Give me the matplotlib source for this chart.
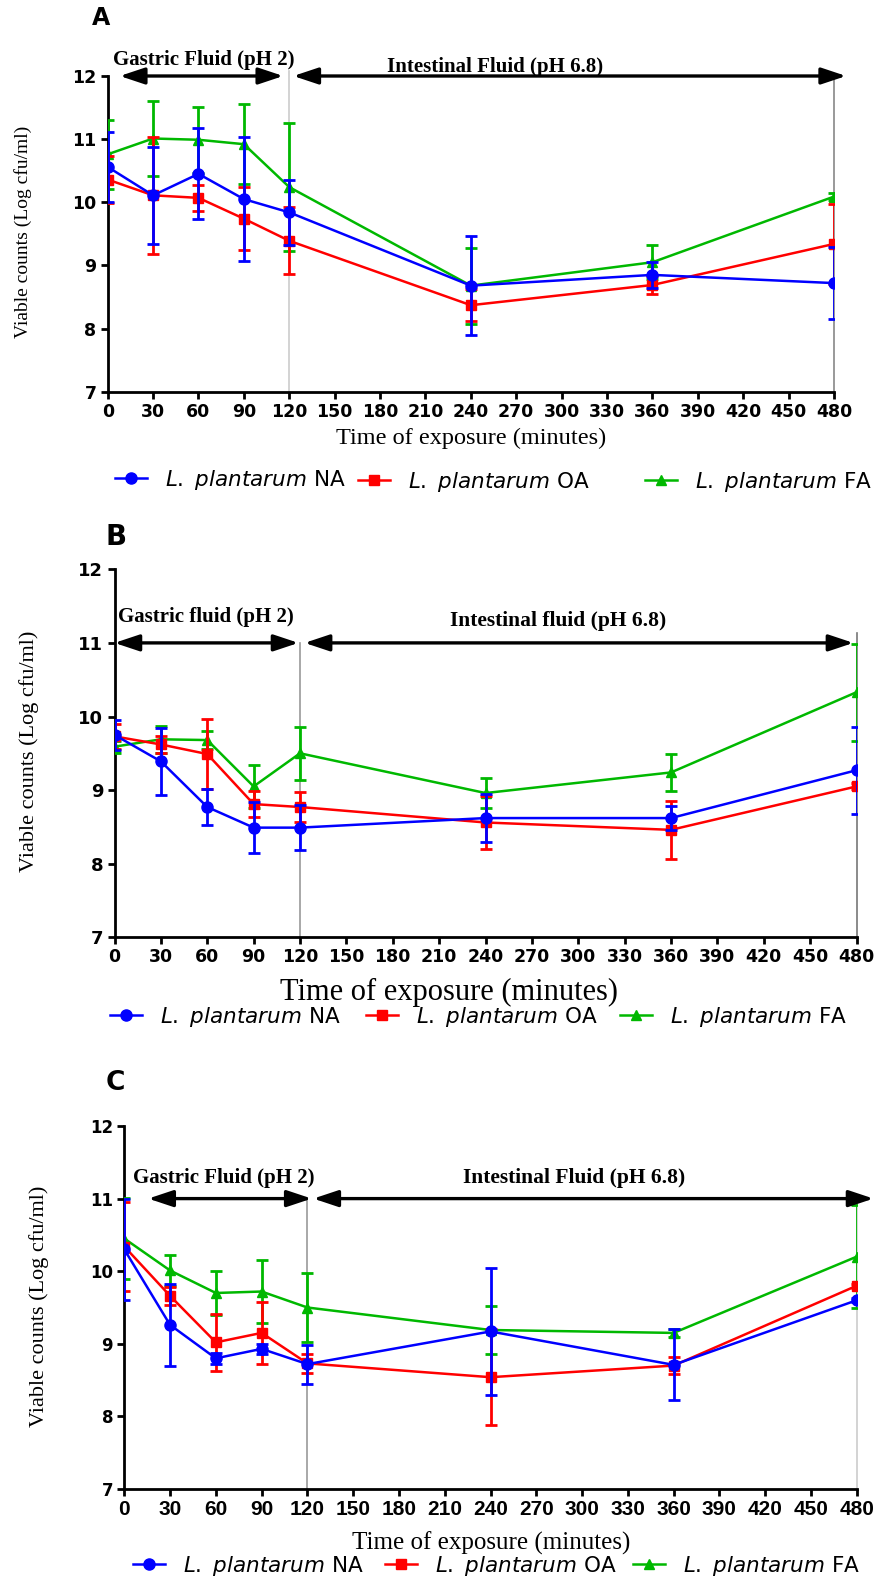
import matplotlib.pyplot as plt

# sampling times (minutes)
times = [0, 30, 60, 90, 120, 240, 360, 480]
xticks = list(range(0, 481, 30))
yticks = [7, 8, 9, 10, 11, 12]

# panel A: mean log counts and SD
na_a = [10.56, 10.11, 10.45, 10.05, 9.84, 8.68, 8.85, 8.72]
na_a_err = [0.56, 0.77, 0.72, 0.98, 0.51, 0.78, 0.20, 0.57]
oa_a = [10.36, 10.11, 10.07, 9.74, 9.39, 8.37, 8.69, 9.34]
oa_a_err = [0.37, 0.93, 0.21, 0.50, 0.53, 0.25, 0.15, 0.64]
fa_a = [10.76, 11.01, 10.99, 10.92, 10.24, 8.68, 9.05, 10.09]
fa_a_err = [0.55, 0.59, 0.52, 0.63, 1.01, 0.60, 0.27, 0.05]

# panel B
na_b = [9.75, 9.39, 8.77, 8.49, 8.49, 8.62, 8.62, 9.27]
na_b_err = [0.20, 0.46, 0.24, 0.35, 0.31, 0.33, 0.16, 0.59]
oa_b = [9.73, 9.62, 9.49, 8.81, 8.77, 8.56, 8.46, 9.05]
oa_b_err = [0.17, 0.12, 0.47, 0.18, 0.21, 0.36, 0.39, 0.04]
fa_b = [9.59, 9.69, 9.68, 9.05, 9.50, 8.96, 9.24, 10.33]
fa_b_err = [0.08, 0.18, 0.12, 0.29, 0.36, 0.20, 0.25, 0.66]

# panel C
na_c = [10.30, 9.26, 8.80, 8.93, 8.72, 9.17, 8.71, 9.60]
na_c_err = [0.70, 0.56, 0.08, 0.07, 0.27, 0.87, 0.49, 0.03]
oa_c = [10.34, 9.66, 9.02, 9.15, 8.73, 8.54, 8.70, 9.80]
oa_c_err = [0.61, 0.12, 0.39, 0.43, 0.13, 0.66, 0.12, 0.03]
fa_c = [10.45, 10.01, 9.70, 9.72, 9.50, 9.19, 9.15, 10.20]
fa_c_err = [0.56, 0.22, 0.30, 0.44, 0.48, 0.33, 0.05, 0.71]

strains = ['NA', 'OA', 'FA']
labels = [r'$\mathit{L.}$ $\mathit{plantarum}$ ' + s for s in strains]
colors = ['#0000ff', '#ff0000', '#00b800']
markers = ['o', 's', '^']
msizes = [8, 7.5, 7.5]

plt.rcParams['font.family'] = 'DejaVu Sans'
plt.rcParams['mathtext.fontset'] = 'dejavusans'

W, H = 877, 1579
fig = plt.figure(figsize=(W / 100, H / 100), dpi=100)


def add_ax(l, t, r, b):
    return fig.add_axes([l / W, 1 - b / H, (r - l) / W, (b - t) / H])


def arrow(ax, x0, x1, y):
    ax.annotate('', xy=(x1, y), xytext=(x0, y),
                arrowprops=dict(arrowstyle='<|-|>,head_length=1.5,head_width=0.5',
                                color='black', lw=2.4, shrinkA=0, shrinkB=0,
                                mutation_scale=10),
                annotation_clip=False)


def draw_panel(ax, series, tick_font, xtick_font):
    lines = [None, None, None]
    # FA first so NA ends up on top
    for i in [2, 1, 0]:
        y, err = series[i]
        eb = ax.errorbar(times, y, yerr=err, color=colors[i], marker=markers[i],
                         ms=msizes[i], lw=1.8, elinewidth=2, capsize=4.5,
                         capthick=2, zorder=3 + (2 - i))
        lines[i] = eb[0]
    ax.set_xlim(0, 480)
    ax.set_ylim(7, 12)
    ax.set_xticks(xticks)
    ax.set_yticks(yticks)
    for s in ['top', 'right']:
        ax.spines[s].set_visible(False)
    for s in ['left', 'bottom']:
        ax.spines[s].set_linewidth(2)
    ax.tick_params(width=2, length=5, pad=3)
    for t in ax.get_yticklabels():
        t.set_fontproperties(tick_font)
    for t in ax.get_xticklabels():
        t.set_fontproperties(xtick_font)
    return lines


def legend_row(lines, positions, size):
    for ln, lab, (x, y) in zip(lines, labels, positions):
        fig.legend(handles=[ln], labels=[lab], loc='center left',
                   bbox_to_anchor=(x / W, 1 - y / H), frameon=False,
                   borderpad=0, borderaxespad=0, fontsize=size,
                   handlelength=1.5, handletextpad=0.8)


bold13 = dict(family='DejaVu Sans', weight='bold', size=12.5)
serif = 'Liberation Serif'

# ---------------- A ----------------
axA = add_ax(107.7, 76, 834, 391.7)
lnA = draw_panel(axA, [(na_a, na_a_err), (oa_a, oa_a_err), (fa_a, fa_a_err)],
                 bold13, bold13)
axA.plot([120, 120], [7, 12.08], color='#cccccc', lw=1.2, clip_on=False, zorder=1)
axA.plot([480, 480], [7, 11.94], color='#888888', lw=1.2, clip_on=False, zorder=1)
arrow(axA, 8, 116, 12)
arrow(axA, 122.7, 488, 12)
axA.text(63.6, 12.25, 'Gastric Fluid (pH 2)', ha='center', va='center',
         family=serif, weight='bold', fontsize=15)
axA.text(256, 12.14, 'Intestinal Fluid (pH 6.8)', ha='center', va='center',
         family=serif, weight='bold', fontsize=15)
fig.text(101 / W, 1 - 18 / H, 'A', ha='center', va='center', weight='bold', fontsize=17)
fig.text(23 / W, 1 - 232 / H, 'Viable counts (Log cfu/ml)', rotation=90,
         ha='center', va='center', family=serif, fontsize=14)
fig.text(471.5 / W, 1 - 438 / H, 'Time of exposure (minutes)', ha='center',
         va='center', family=serif, fontsize=17.5)
legend_row(lnA, [(115, 480), (358, 482), (645, 482)], 15.5)

# ---------------- B ----------------
axB = add_ax(114.5, 569.3, 856.5, 937.3)
lnB = draw_panel(axB, [(na_b, na_b_err), (oa_b, oa_b_err), (fa_b, fa_b_err)],
                 dict(family='DejaVu Sans', weight='bold', size=13), bold13)
axB.plot([120, 120], [7, 11], color='#999999', lw=1.2, clip_on=False, zorder=1)
axB.plot([480, 480], [7, 11.13], color='#777777', lw=1.2, clip_on=False, zorder=1)
arrow(axB, 0, 119, 11)
arrow(axB, 123, 478, 11)
axB.text(59, 11.35, 'Gastric fluid (pH 2)', ha='center', va='center',
         family=serif, weight='bold', fontsize=15)
axB.text(287, 11.3, 'Intestinal fluid (pH 6.8)', ha='center', va='center',
         family=serif, weight='bold', fontsize=15.5)
fig.text(116.5 / W, 1 - 537 / H, 'B', ha='center', va='center', weight='bold', fontsize=20)
fig.text(29 / W, 1 - 751 / H, 'Viable counts (Log cfu/ml)', rotation=90,
         ha='center', va='center', family=serif, fontsize=16)
fig.text(449.5 / W, 1 - 992 / H, 'Time of exposure (minutes)', ha='center',
         va='center', family=serif, fontsize=22)
legend_row(lnB, [(110, 1017), (366, 1017), (620, 1017)], 15.5)

# ---------------- C ----------------
axC = add_ax(124.3, 1126, 856.7, 1489)
lnC = draw_panel(axC, [(na_c, na_c_err), (oa_c, oa_c_err), (fa_c, fa_c_err)],
                 dict(family='DejaVu Sans', weight='bold', size=12),
                 dict(family='Liberation Sans', weight='bold', size=15))
axC.plot([120, 120], [7, 11], color='#999999', lw=1.2, clip_on=False, zorder=1)
axC.plot([480, 480], [7, 11], color='#cccccc', lw=1.2, clip_on=False, zorder=1)
arrow(axC, 15.7, 122.8, 11)
arrow(axC, 123.9, 491, 11)
axC.text(65, 11.28, 'Gastric Fluid (pH 2)', ha='center', va='center',
         family=serif, weight='bold', fontsize=15)
axC.text(294.7, 11.28, 'Intestinal Fluid (pH 6.8)', ha='center', va='center',
         family=serif, weight='bold', fontsize=15.5)
fig.text(115.5 / W, 1 - 1083 / H, 'C', ha='center', va='center', weight='bold', fontsize=19)
fig.text(39 / W, 1 - 1306 / H, 'Viable counts (Log cfu/ml)', rotation=90,
         ha='center', va='center', family=serif, fontsize=16)
fig.text(491.5 / W, 1 - 1543 / H, 'Time of exposure (minutes)', ha='center',
         va='center', family=serif, fontsize=18)
legend_row(lnC, [(133, 1566), (385, 1566), (633, 1566)], 15.5)

fig.savefig('out.png', dpi=100)
